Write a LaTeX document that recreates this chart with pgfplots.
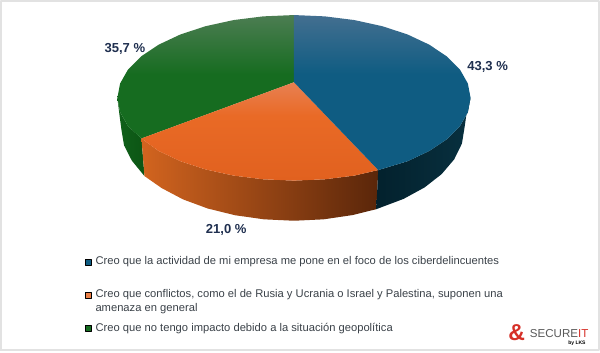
\documentclass[border=0pt]{standalone}
\usepackage{pgfplots}
\pgfplotsset{compat=1.18}
\usepackage{fontspec}
\setmainfont{Liberation Sans}
\definecolor{lab}{HTML}{1F2F4F}
\definecolor{legtxt}{HTML}{3A4148}
\definecolor{fr}{HTML}{E2E2E2}
\definecolor{blueS}{HTML}{0F5C82}
\definecolor{blueL}{HTML}{436F90}
\definecolor{orangeS}{HTML}{E96A26}
\definecolor{orangeD}{HTML}{E1611F}
\definecolor{orangeL}{HTML}{E88052}
\definecolor{greenS}{HTML}{166C20}
\definecolor{greenL}{HTML}{4C7D52}
\definecolor{greenD}{HTML}{10601A}
\definecolor{greenE}{HTML}{0C5514}
\definecolor{orLeft}{HTML}{D2641F}
\definecolor{orRight}{HTML}{5A260A}
\definecolor{blLeft}{HTML}{03212D}
\definecolor{blRight}{HTML}{08303F}
\definecolor{logoR}{HTML}{D63028}
\pgfdeclareverticalshading{blueTop}{100bp}{color(0bp)=(blueS); color(56bp)=(blueS); color(75bp)=(blueL); color(100bp)=(blueL)}
\pgfdeclareverticalshading{greenTop}{100bp}{color(0bp)=(greenS); color(51bp)=(greenS); color(75bp)=(greenL); color(100bp)=(greenL)}
\pgfdeclareverticalshading{orangeTop}{100bp}{color(0bp)=(orangeD); color(25bp)=(orangeD); color(58bp)=(orangeS); color(75bp)=(orangeL); color(100bp)=(orangeL)}
\begin{document}
\begin{tikzpicture}
\begin{axis}[
  width=600pt,height=353pt,scale only axis,
  xmin=0,xmax=600,ymin=0,ymax=353,y dir=reverse,
  hide axis,clip=false,
  every axis plot/.append style={line join=round},
]
% frame
\addplot[fr,line width=2pt] coordinates {(2,351) (2,2) (598,2) (598,350) (2,350)};
% sides
\addplot[draw=none,left color=greenD,right color=greenE] coordinates {
 (118,98.5)(120,115)(122,130)(124.6,145.8)(132.4,161.1)(145,176.5)(142,139)(128.6,126.7)(120.7,112.8)} --cycle;
\addplot[draw=none,left color=orLeft,right color=orRight] coordinates {
 (142,139)(145,176.5)(162.2,188.5)(183.4,199.7)(208,208.8)(235.2,215.5)(264.1,219.6)(294,221)(323.5,219.6)(352.1,215.4)(376,209.5)
 (378,170.5)(354.2,176)(324.6,179.7)(294,181)(263.4,179.7)(233.8,176)(206,169.9)(180.9,161.7)(159.2,151.5)} --cycle;
\addplot[draw=none,left color=blLeft,right color=blRight] coordinates {
 (378,170.5)(376,209.5)(403.3,199.2)(424.2,187.8)(441.2,174.5)(453.7,159.8)(461.4,144.1)(464,128)(466,114)(468,103)(470,98.5)
 (467.3,112.8)(459.4,126.7)(446.4,139.75)(428.8,151.5)(407.1,161.7)} --cycle;
% tops
\addplot[draw=none,shade,shading=greenTop] coordinates {
 (294,83)(142,139)(128.6,126.7)(120.7,112.8)(118,98.5)(120.7,84.2)(128.6,70.3)(141.6,57.25)(159.2,45.5)(180.9,35.3)(206,27.1)(233.8,21)(263.4,17.3)(294,16)} --cycle;
\addplot[draw=none,shade,shading=orangeTop] coordinates {
 (294,83)(378,170.5)(354.2,176)(324.6,179.7)(294,181)(263.4,179.7)(233.8,176)(206,169.9)(180.9,161.7)(159.2,151.5)(142,139)} --cycle;
\addplot[draw=none,shade,shading=blueTop] coordinates {
 (294,83)(294,16)(324.6,17.3)(354.2,21)(382,27.1)(407.1,35.3)(428.8,45.5)(446.4,57.25)(459.4,70.3)(467.3,84.2)(470,98.5)(467.3,112.8)(459.4,126.7)(446.4,139.75)(428.8,151.5)(407.1,161.7)(378,170.5)} --cycle;
% legend squares
\addplot[only marks,mark=square*,mark size=3pt,mark options={draw=none,fill=blueS}] coordinates {(89,262)};
\addplot[only marks,mark=square*,mark size=3pt,mark options={draw=none,fill=orangeS!85!white}] coordinates {(89,295)};
\addplot[only marks,mark=square*,mark size=3pt,mark options={draw=none,fill=greenS}] coordinates {(89,328)};
% labels
\node[font=\fontsize{13}{13}\selectfont\bfseries,text=lab] at (axis cs:125.5,49.5) {35,7 \%};
\node[font=\fontsize{13}{13}\selectfont\bfseries,text=lab] at (axis cs:487,67.5) {43,3 \%};
\node[font=\fontsize{13}{13}\selectfont\bfseries,text=lab] at (axis cs:226.5,230.5) {21,0 \%};
% legend text
\node[anchor=west,inner sep=0pt,text=legtxt,font=\fontsize{11.15}{14}\selectfont] at (axis cs:96,262) {Creo que la actividad de mi empresa me pone en el foco de los ciberdelincuentes};
\node[anchor=west,inner sep=0pt,text=legtxt,font=\fontsize{11.15}{14}\selectfont] at (axis cs:96,295) {Creo que conflictos, como el de Rusia y Ucrania o Israel y Palestina, suponen una};
\node[anchor=west,inner sep=0pt,text=legtxt,font=\fontsize{11.15}{14}\selectfont] at (axis cs:96,309) {amenaza en general};
\node[anchor=west,inner sep=0pt,text=legtxt,font=\fontsize{11.15}{14}\selectfont] at (axis cs:96,328) {Creo que no tengo impacto debido a la situación geopolítica};
% logo
\node[text=logoR,font=\fontsize{23}{23}\selectfont\bfseries] at (axis cs:516,333) {\&};
\node[anchor=west,inner sep=0pt,font=\fontsize{11.5}{12}\selectfont] at (axis cs:529,333) {\textcolor{black!65}{SECURE}\textcolor{logoR}{IT}};
\node[inner sep=0pt,font=\fontsize{5}{5}\selectfont\bfseries] at (axis cs:576,343) {by LKS};
\end{axis}
\end{tikzpicture}
\end{document}
